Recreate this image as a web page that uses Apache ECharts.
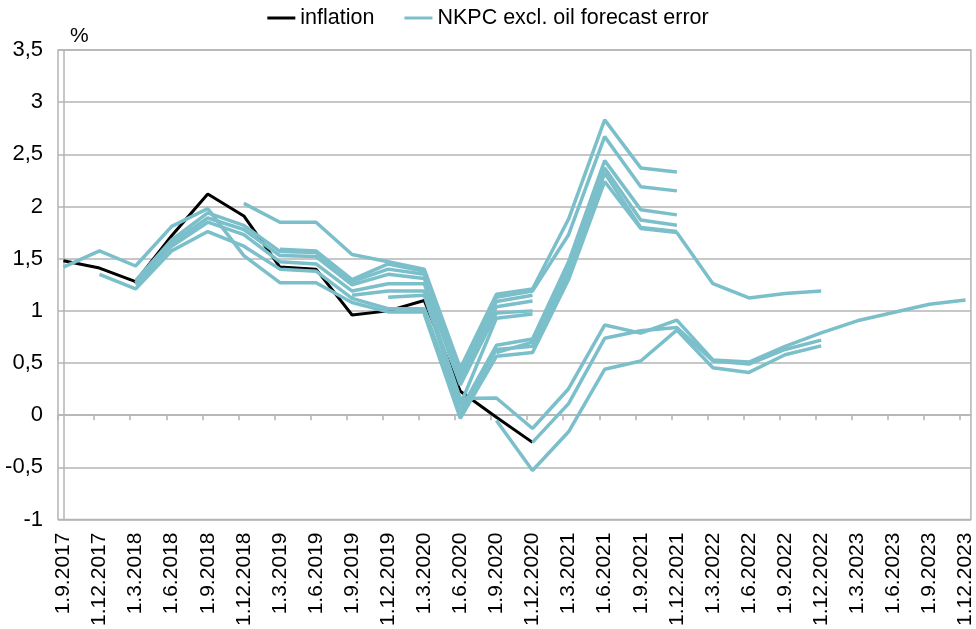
<!DOCTYPE html>
<html>
<head>
<meta charset="utf-8">
<script src="https://cdn.jsdelivr.net/npm/echarts@6/dist/echarts.min.js"></script>
<style>
  html, body { margin: 0; padding: 0; background: #fff; }
  #chart { width: 976px; height: 629px; }
</style>
</head>
<body>
<div id="chart"></div>
<script>
// quarters on the x axis
const quarters = ['1.9.2017', '1.12.2017', '1.3.2018', '1.6.2018', '1.9.2018', '1.12.2018',
  '1.3.2019', '1.6.2019', '1.9.2019', '1.12.2019', '1.3.2020', '1.6.2020', '1.9.2020',
  '1.12.2020', '1.3.2021', '1.6.2021', '1.9.2021', '1.12.2021', '1.3.2022', '1.6.2022',
  '1.9.2022', '1.12.2022', '1.3.2023', '1.6.2023', '1.9.2023', '1.12.2023']

const yTicks = [-1, -0.5, 0, 0.5, 1, 1.5, 2, 2.5, 3, 3.5]

const N = null
const inflation = [1.48, 1.41, 1.28, 1.72, 2.12, 1.91, 1.42, 1.40, 0.96, 1.00, 1.10, 0.23, -0.02, -0.26,
  N, N, N, N, N, N, N, N, N, N, N, N]

// forecast lines, one array per vintage
const fc1 = [1.42, 1.575, 1.43, 1.81, 1.98, 1.53, 1.27, 1.27, 1.08, 0.99, 0.99, 0.0, 0.63, 0.66, 1.36, 2.32, 1.80, 1.76, N, N, N, N, N, N, N, N]
const fc2 = [N, 1.35, 1.21, 1.575, 1.76, 1.62, 1.40, 1.38, 1.12, 1.02, 1.02, 0.05, 0.67, 0.73, 1.47, 2.44, 1.97, 1.92, N, N, N, N, N, N, N, N]
const fc3 = [N, N, 1.25, 1.62, 1.85, 1.73, 1.47, 1.45, 1.19, 1.26, 1.26, 0.29, 0.98, 1.00, N, N, N, N, N, N, N, N, N, N, N, N]
const fc4 = [N, N, 1.27, 1.65, 1.89, 1.78, 1.53, 1.52, 1.25, 1.35, 1.31, 0.33, 1.04, 1.095, N, N, N, N, N, N, N, N, N, N, N, N]
const fc5 = [N, N, 1.29, 1.68, 1.94, 1.82, 1.57, 1.56, 1.28, 1.40, 1.35, 0.37, 1.09, 1.15, N, N, N, N, N, N, N, N, N, N, N, N]
const fc6 = [N, N, N, N, N, 2.03, 1.85, 1.85, 1.54, 1.47, 1.40, 0.45, 1.16, 1.21, 1.88, 2.83, 2.37, 2.33, N, N, N, N, N, N, N, N]
const fc7 = [N, N, N, N, N, N, 1.59, 1.575, 1.30, 1.45, 1.38, 0.41, 1.13, 1.19, 1.73, 2.67, 2.19, 2.15, N, N, N, N, N, N, N, N]
const fc8 = [N, N, N, N, N, N, N, N, N, 1.13, 1.15, 0.10, 0.93, 0.97, N, N, N, N, N, N, N, N, N, N, N, N]
const fc9 = [N, N, N, N, N, N, N, N, 1.15, 1.19, 1.19, 0.16, 0.165, -0.127, 0.254, 0.864, 0.787, 0.911, 0.53, 0.51, 0.66, 0.79, 0.905, 0.984, 1.064, 1.105]
const fc10 = [N, N, N, N, N, N, N, N, N, N, 0.97, -0.03, 0.565, 0.60, 1.30, 2.24, 1.79, 1.75, 1.26, 1.124, 1.166, 1.19, N, N, N, N]
const fc11 = [N, N, N, N, N, N, N, N, N, N, N, N, 0.60, 0.70, 1.40, 2.37, 1.87, 1.82, N, N, N, N, N, N, N, N]
const fc12 = [N, N, N, N, N, N, N, N, N, N, N, N, N, -0.26, 0.111, 0.737, 0.81, 0.84, 0.52, 0.49, 0.63, 0.72, N, N, N, N]
const fc13 = [N, N, N, N, N, N, N, N, N, N, N, N, -0.05, -0.53, -0.159, 0.44, 0.52, 0.816, 0.455, 0.41, 0.58, 0.665, N, N, N, N]
const forecasts = [fc1, fc2, fc3, fc4, fc5, fc6, fc7, fc8, fc9, fc10, fc11, fc12, fc13]

const FONT = "'Liberation Sans', Arial, sans-serif"
const TEAL = '#7BBFCA'
const GRID = '#B4B4B4'
// points sit a little right of the tick marks, like the Excel date axis
const SHIFT = 0.15

const toPoints = (arr) => arr.map((v, i) => [i, v]).filter((p) => p[1] !== null)

const chart = echarts.init(document.getElementById('chart'))

const series = [{
  name: 'inflation',
  type: 'line',
  xAxisIndex: 0,
  data: toPoints(inflation),
  showSymbol: false,
  lineStyle: { color: '#000', width: 3 },
  itemStyle: { color: '#000' }
}]
forecasts.forEach((fc) => {
  series.push({
    name: 'NKPC excl. oil forecast error',
    type: 'line',
    xAxisIndex: 0,
    data: toPoints(fc),
    showSymbol: false,
    lineStyle: { color: TEAL, width: 3.5 },
    itemStyle: { color: TEAL }
  })
})

chart.setOption({
  animation: false,
  textStyle: { fontFamily: FONT },
  legend: {
    top: 2,
    left: 'center',
    data: ['inflation', 'NKPC excl. oil forecast error'],
    icon: 'rect',
    itemWidth: 28,
    itemHeight: 3,
    itemGap: 30,
    textStyle: { fontSize: 21.5, color: '#000', fontFamily: FONT }
  },
  graphic: [{
    type: 'text',
    left: 70,
    top: 26,
    style: { text: '%', fontSize: 21, fill: '#000', fontFamily: FONT }
  }],
  grid: {
    left: 58,
    right: 1,
    top: 50,
    bottom: 108,
    show: true,
    borderColor: GRID,
    borderWidth: 1.5
  },
  xAxis: [
    {
      // labels at the bottom
      type: 'value',
      min: -SHIFT,
      max: quarters.length - 1 + SHIFT,
      position: 'bottom',
      axisLine: { show: false, onZero: false },
      axisTick: { show: false },
      splitLine: { show: false },
      axisLabel: {
        customValues: quarters.map((q, i) => i),
        formatter: (v) => quarters[Math.round(v)],
        rotate: 90,
        margin: 13,
        fontSize: 21,
        color: '#000',
        fontFamily: FONT
      }
    },
    {
      // zero line with tick marks
      type: 'value',
      min: -SHIFT,
      max: quarters.length - 1 + SHIFT,
      position: 'bottom',
      axisLine: { show: true, onZero: true, lineStyle: { color: GRID, width: 1.5 } },
      axisTick: {
        show: true,
        length: 5,
        customValues: quarters.map((q, i) => i - SHIFT),
        lineStyle: { color: GRID, width: 1.5 }
      },
      axisLabel: { show: false },
      splitLine: { show: false }
    }
  ],
  yAxis: {
    type: 'value',
    min: yTicks[0],
    max: yTicks[yTicks.length - 1],
    interval: 0.5,
    axisLine: { show: true, lineStyle: { color: GRID, width: 1.5 } },
    axisTick: { show: false },
    splitLine: { lineStyle: { color: GRID, width: 1.5 } },
    axisLabel: {
      margin: 15,
      fontSize: 22,
      color: '#000',
      fontFamily: FONT,
      formatter: (v) => String(v).replace('.', ',')
    }
  },
  series: series
})
</script>
</body>
</html>
